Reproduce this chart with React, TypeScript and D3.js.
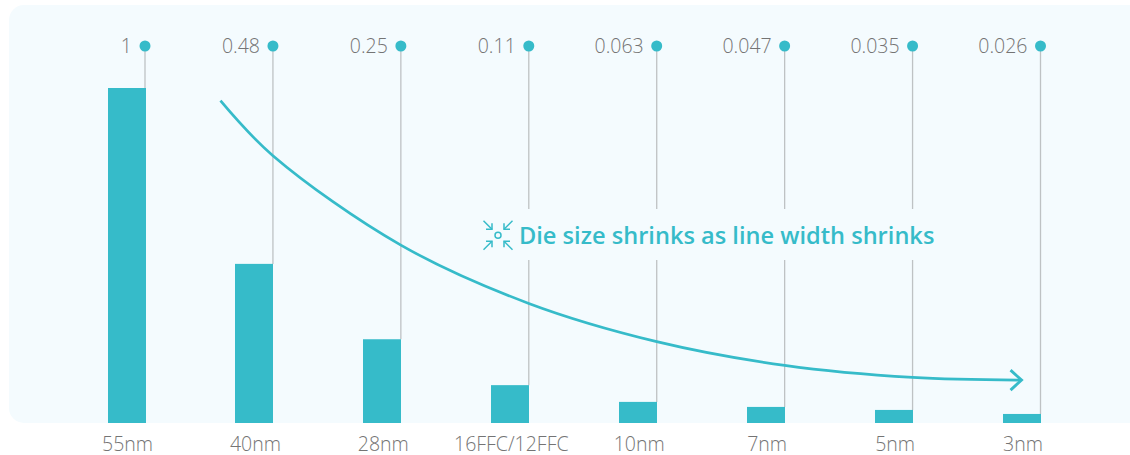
import React from "react";
import * as d3 from "d3";

const categories = ["55nm", "40nm", "28nm", "16FFC/12FFC", "10nm", "7nm", "5nm", "3nm"];
const valueLabels = ["1", "0.48", "0.25", "0.11", "0.063", "0.047", "0.035", "0.026"];
const barValues = [1, 0.475, 0.25, 0.113, 0.063, 0.048, 0.039, 0.027];
const trendPositions = [0.59, 1, 2, 3, 4, 5, 6, 6.84];
const trendValues = [0.962, 0.798, 0.531, 0.357, 0.243, 0.172, 0.136, 0.128];
const title = "Die size shrinks as line width shrinks";

const W = 1130;
const H = 455;
const TEAL = "#36BBC9";
const PANEL = "#F4FBFE";
const GREY = "#BEC2C4";
const TXT = "#747474";
const FONT = "'Open Sans', sans-serif";

export default function App() {
  const barW = 38;
  const right = d3.scaleLinear().domain([0, 7]).range([145, 1040.5]);
  const y = d3.scaleLinear().domain([0, 1]).range([423, 88]);
  const pts = trendPositions.map((p, i) => ({ p, v: trendValues[i] }));
  const curve = d3
    .line<{ p: number; v: number }>()
    .x((d) => right(d.p))
    .y((d) => y(d.v))
    .curve(d3.curveCatmullRom.alpha(0.5))(pts);
  const last = pts[pts.length - 1];
  const tipX = right(last.p) + 1.5;
  const tipY = y(last.v);
  const iconCx = 498;
  const iconCy = 235.3;
  const iconRays = [
    [-1, -1],
    [1, -1],
    [-1, 1],
    [1, 1],
  ];
  return (
    <svg width={W} height={H} style={{ position: "absolute", left: 0, top: 0 }} fontFamily={FONT}>
      <rect x={9} y={5} width={W + 40} height={418} rx={15} fill={PANEL} />
      {categories.map((c, i) => {
        const lx = right(i);
        const top = y(barValues[i]);
        return (
          <g key={c}>
            <line x1={lx} x2={lx} y1={46} y2={top} stroke={GREY} strokeWidth={1.3} />
            <circle cx={lx} cy={46} r={5.5} fill={TEAL} />
            <text x={lx - 13} y={53} textAnchor="end" fontSize={19.5} fontWeight={300} fill={TXT}>
              {valueLabels[i]}
            </text>
            <rect x={Math.floor(lx - barW + 1)} y={top} width={barW} height={423 - top} fill={TEAL} />
            <text x={lx - 17.5} y={451} textAnchor="middle" fontSize={19.5} fontWeight={300} fill={TXT}>
              {c}
            </text>
          </g>
        );
      })}
      <rect x={478} y={209} width={470} height={51} fill={PANEL} />
      <path d={curve ?? ""} fill="none" stroke={TEAL} strokeWidth={2.7} />
      <path
        d={`M${tipX - 11},${tipY - 10} L${tipX},${tipY} L${tipX - 11},${tipY + 10}`}
        fill="none"
        stroke={TEAL}
        strokeWidth={2.9}
      />
      <g stroke={TEAL} strokeWidth={1.5} fill="none">
        <circle cx={iconCx} cy={iconCy} r={3} />
        {iconRays.map(([sx, sy], i) => (
          <g key={i}>
            <line x1={iconCx + sx * 14.5} y1={iconCy + sy * 14.5} x2={iconCx + sx * 6} y2={iconCy + sy * 6} />
            <path
              d={`M${iconCx + sx * 6},${iconCy + sy * 12} L${iconCx + sx * 6},${iconCy + sy * 6} L${iconCx + sx * 12},${iconCy + sy * 6}`}
            />
          </g>
        ))}
      </g>
      <text x={519} y={244} fontSize={23.6} fontWeight={600} fill={TEAL}>
        {title}
      </text>
    </svg>
  );
}
